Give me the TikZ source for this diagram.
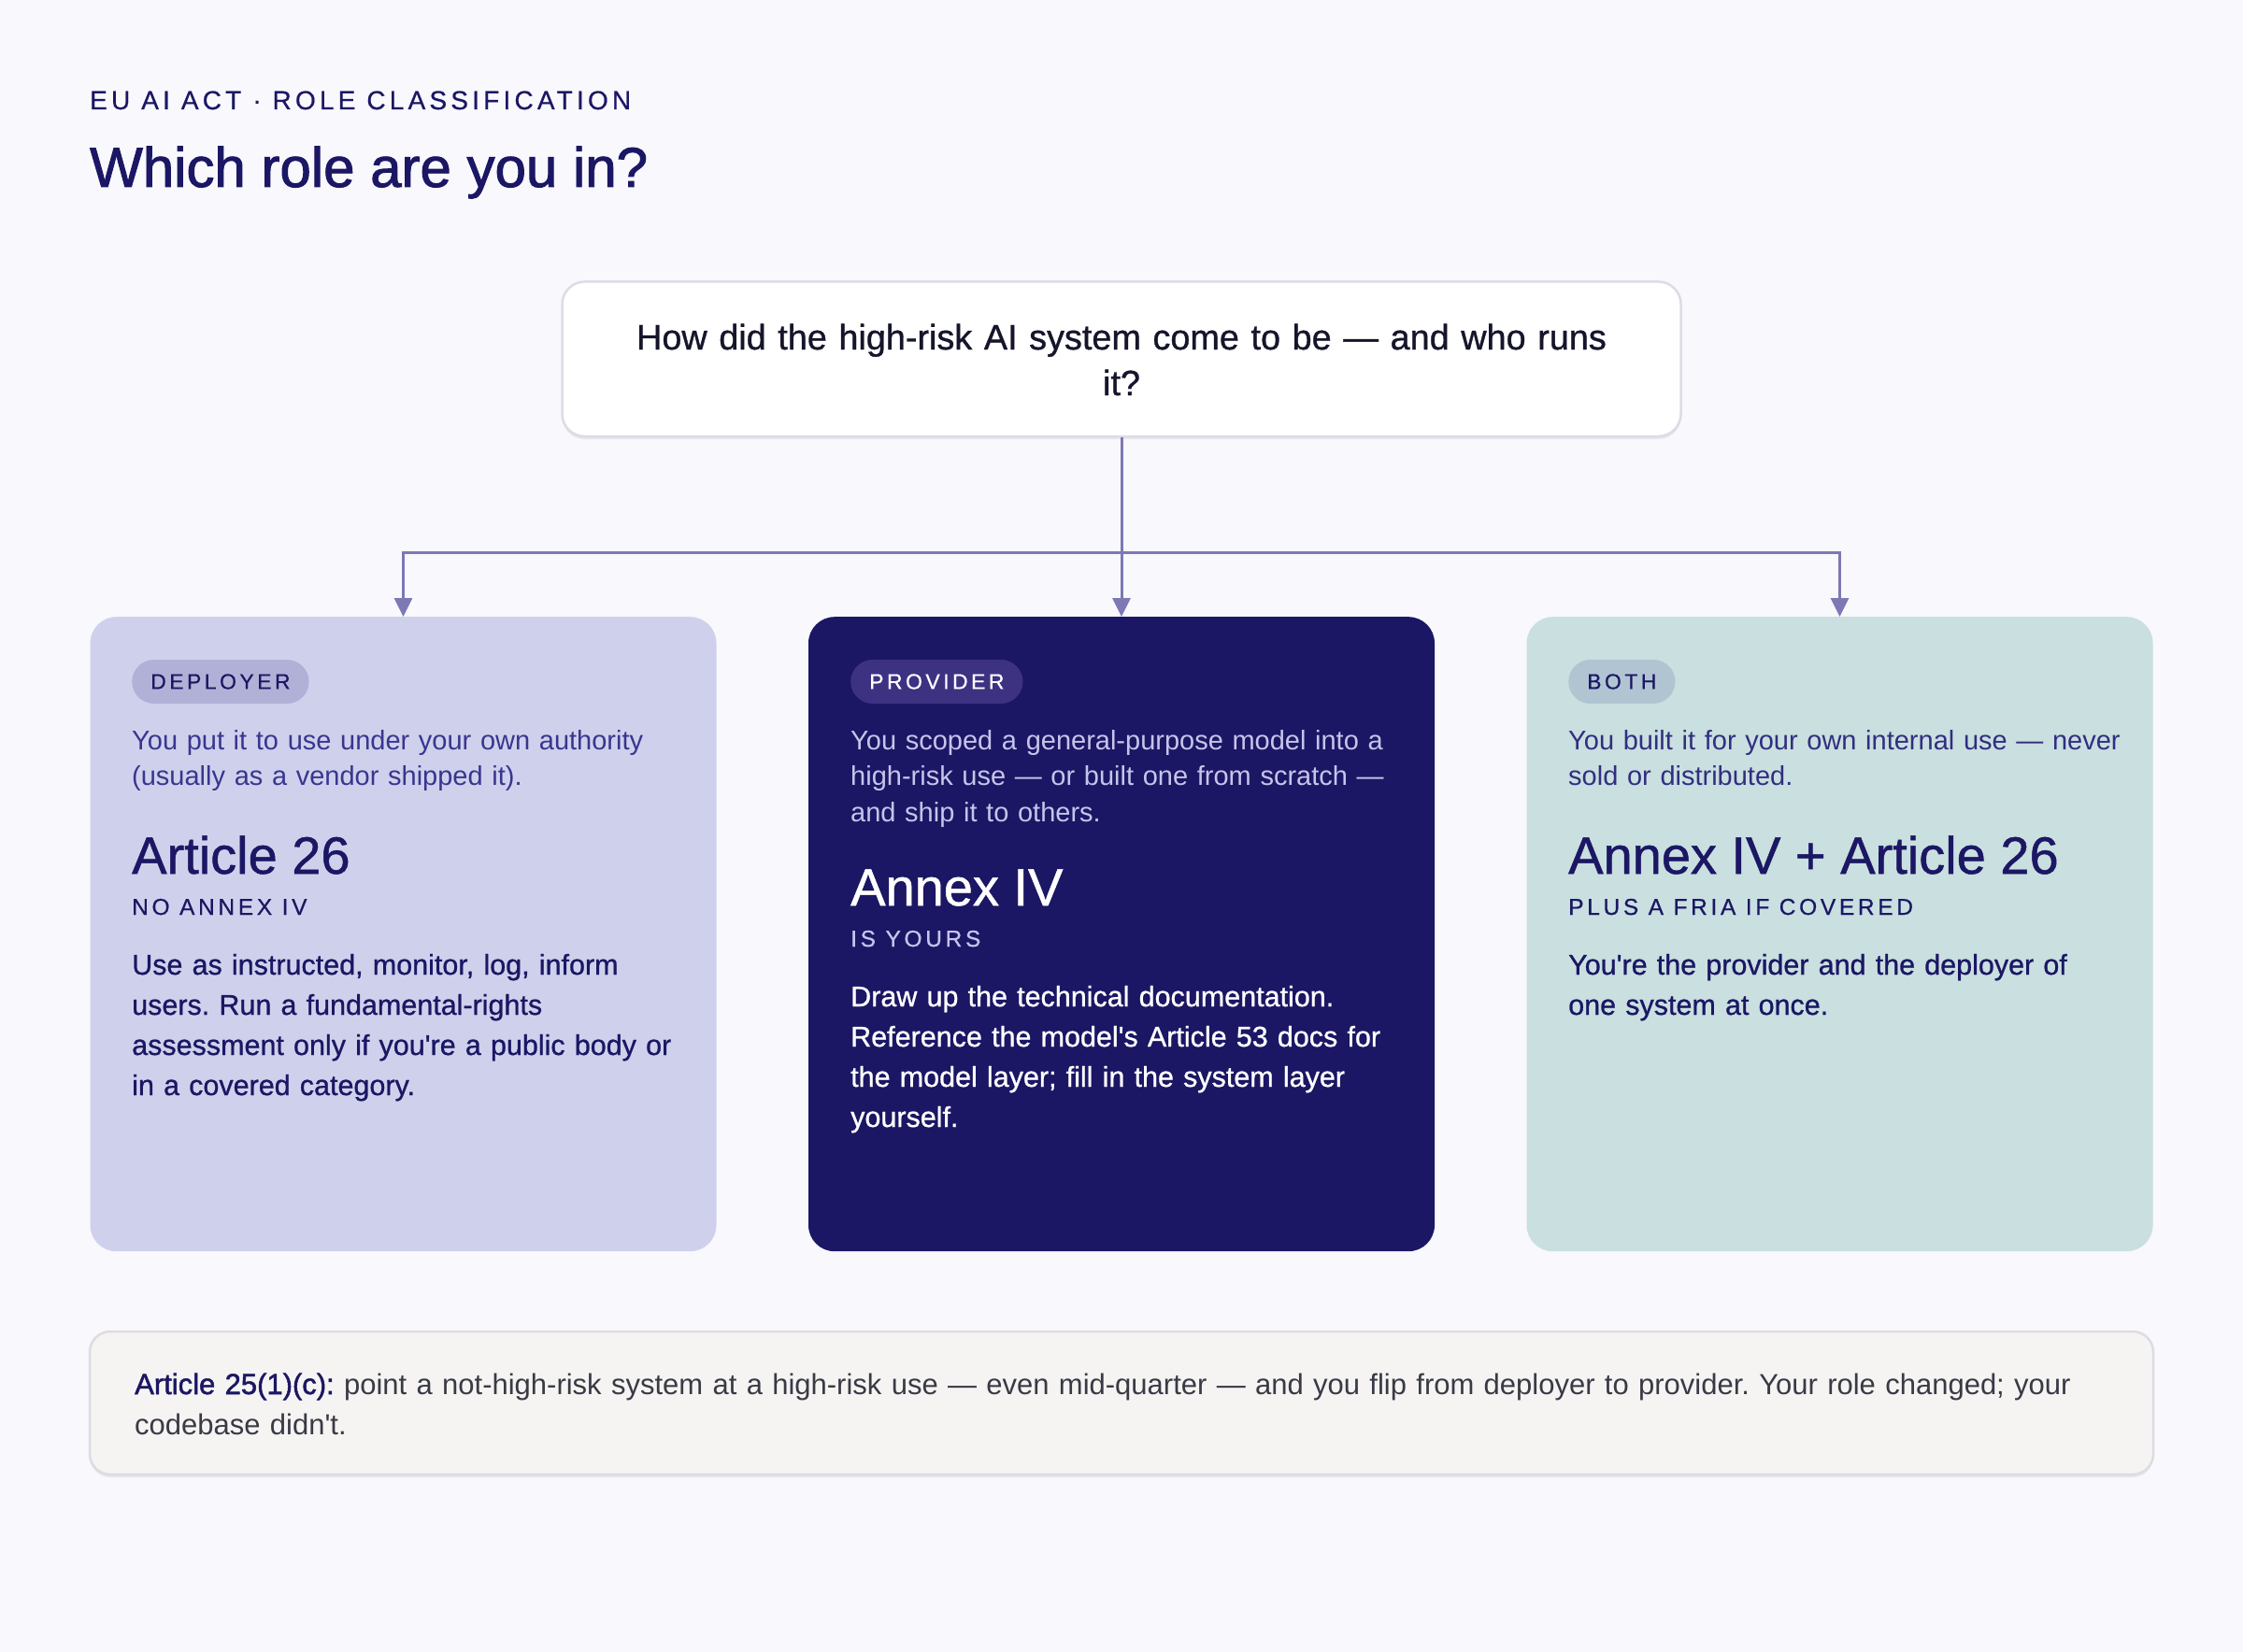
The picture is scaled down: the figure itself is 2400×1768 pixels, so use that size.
\documentclass[tikz,border=0pt]{standalone}
\usepackage{fontspec}
\setmainfont{Liberation Sans}
\newfontfamily\medfont{Liberation Sans}[FakeBold=0.9]
\newfontfamily\semifont{Liberation Sans}[FakeBold=1.6]
\newfontfamily\capsfont{Liberation Sans}[LetterSpace=15,FakeBold=0.6]
\usetikzlibrary{arrows.meta,calc}
\definecolor{bg}{HTML}{F8F8FD}
\definecolor{navy}{HTML}{1B1764}
\definecolor{cardA}{HTML}{CFD1EC}
\definecolor{cardB}{HTML}{1B1764}
\definecolor{cardC}{HTML}{C9DFE0}
\definecolor{pillA}{HTML}{B1B1D8}
\definecolor{pillB}{HTML}{3D3282}
\definecolor{pillC}{HTML}{B1C4D2}
\definecolor{descA}{HTML}{3A3590}
\definecolor{descB}{HTML}{C6C4EC}
\definecolor{descC}{HTML}{322E80}
\definecolor{conn}{HTML}{7C79B4}
\definecolor{qborder}{HTML}{DCDCE5}
\definecolor{qtext}{HTML}{15152B}
\definecolor{footfill}{HTML}{F5F4F2}
\definecolor{footborder}{HTML}{DCDCE2}
\definecolor{foottext}{HTML}{3A3A46}
\definecolor{shadow}{HTML}{E6E6EC}
\frenchspacing
\begin{document}
\begin{tikzpicture}[x=1pt,y=-1pt,
  card/.style={anchor=north, rounded corners=28pt, minimum width=670pt, minimum height=679pt, inner sep=0pt},
  pill/.style={anchor=west, rounded corners=23.5pt, minimum height=47pt, inner xsep=20pt, inner ysep=0pt, font=\capsfont\fontsize{23}{26}\selectfont},
  txt/.style={anchor=base west, inner sep=0pt, align=left, text width=620pt},
  desc/.style={txt, font=\fontsize{29}{38.5}\selectfont},
  head/.style={anchor=base west, inner sep=0pt, font=\medfont\fontsize{56}{60}\selectfont},
  sub/.style={anchor=base west, inner sep=0pt, font=\capsfont\fontsize{24.5}{28}\selectfont},
  body/.style={txt, font=\medfont\fontsize{30.5}{43}\selectfont},
  connector/.style={draw=conn, line width=3pt},
  tip/.style={-{Triangle[length=20pt,width=19pt]}}
]
% background
\fill[bg] (0,0) rectangle (2400,1768);
\useasboundingbox (0,0) rectangle (2400,1768);

% header
\node[anchor=base west, inner sep=0pt, font=\capsfont\fontsize{28}{30}\selectfont, text=navy] (kicker) at (96,117) {EU AI ACT · ROLE CLASSIFICATION};
\node[anchor=base west, inner sep=0pt, font=\semifont\fontsize{60}{64}\selectfont, text=navy] (title) at (96,200) {Which role are you in?};

% question box
\fill[shadow, rounded corners=24pt] (601.5,304.5) rectangle (1798.5,470);
\node[draw=qborder, line width=2.5pt, fill=white, rounded corners=24pt, minimum width=1197pt, minimum height=165.5pt, inner sep=0pt] (q) at (1200,384.25) {};
\node[anchor=base, inner sep=0pt, align=center, text width=1100pt, font=\medfont\fontsize{37.8}{49}\selectfont, text=qtext] (qtxt) at (1200,374) {How did the high-risk AI system come to be — and who runs\\it?};

% cards
\node[card, fill=cardA] (c1) at (431.5,660) {};
\node[card, fill=cardB] (c2) at (1200,660) {};
\node[card, fill=cardC] (c3) at (1968.5,660) {};

% connectors
\coordinate (hub) at (1200,591);
\draw[connector] (q.south) -- (hub);
\draw[connector, tip] (hub) -| (c1.north);
\draw[connector, tip] (hub) -- (c2.north);
\draw[connector, tip] (hub) -| (c3.north);

% card 1 : deployer
\node[pill, fill=pillA, text=navy] (p1) at (141,729.5) {DEPLOYER};
\node[desc, text=descA] (d1) at (141,802) {You put it to use under your own authority\\(usually as a vendor shipped it).};
\node[head, text=navy] (h1) at (141,935) {Article 26};
\node[sub, text=navy] (s1) at (141,979) {NO ANNEX IV};
\node[body, text=navy] (b1) at (141,1043) {Use as instructed, monitor, log, inform\\users. Run a fundamental-rights\\assessment only if you\textquotesingle re a public body or\\in a covered category.};

% card 2 : provider
\node[pill, fill=pillB, text=white] (p2) at (910,729.5) {PROVIDER};
\node[desc, text=descB] (d2) at (910,802) {You scoped a general-purpose model into a\\high-risk use — or built one from scratch —\\and ship it to others.};
\node[head, text=white] (h2) at (910,969) {Annex IV};
\node[sub, text=descB] (s2) at (910,1013) {IS YOURS};
\node[body, text=white] (b2) at (910,1077) {Draw up the technical documentation.\\Reference the model\textquotesingle s Article 53 docs for\\the model layer; fill in the system layer\\yourself.};

% card 3 : both
\node[pill, fill=pillC, text=navy] (p3) at (1678,729.5) {BOTH};
\node[desc, text=descC] (d3) at (1678,802) {You built it for your own internal use — never\\sold or distributed.};
\node[head, text=navy] (h3) at (1678,935) {Annex IV + Article 26};
\node[sub, text=navy] (s3) at (1678,979) {PLUS A FRIA IF COVERED};
\node[body, text=navy] (b3) at (1678,1043) {You\textquotesingle re the provider and the deployer of\\one system at once.};

% footer note
\fill[shadow, rounded corners=22pt] (96,1428) rectangle (2304,1581);
\node[draw=footborder, line width=2.5pt, fill=footfill, rounded corners=22pt, minimum width=2208pt, minimum height=153pt, inner sep=0pt] (foot) at (1200,1501.5) {};
\node[anchor=base west, inner sep=0pt, align=left, text width=2150pt, font=\fontsize{31}{43}\selectfont, text=foottext] (foottxt) at (144,1492) {{\semifont\color{navy}Article 25(1)(c):} point a not-high-risk system at a high-risk use — even mid-quarter — and you flip from deployer to provider. Your role changed; your\\codebase didn\textquotesingle t.};
\end{tikzpicture}
\end{document}
